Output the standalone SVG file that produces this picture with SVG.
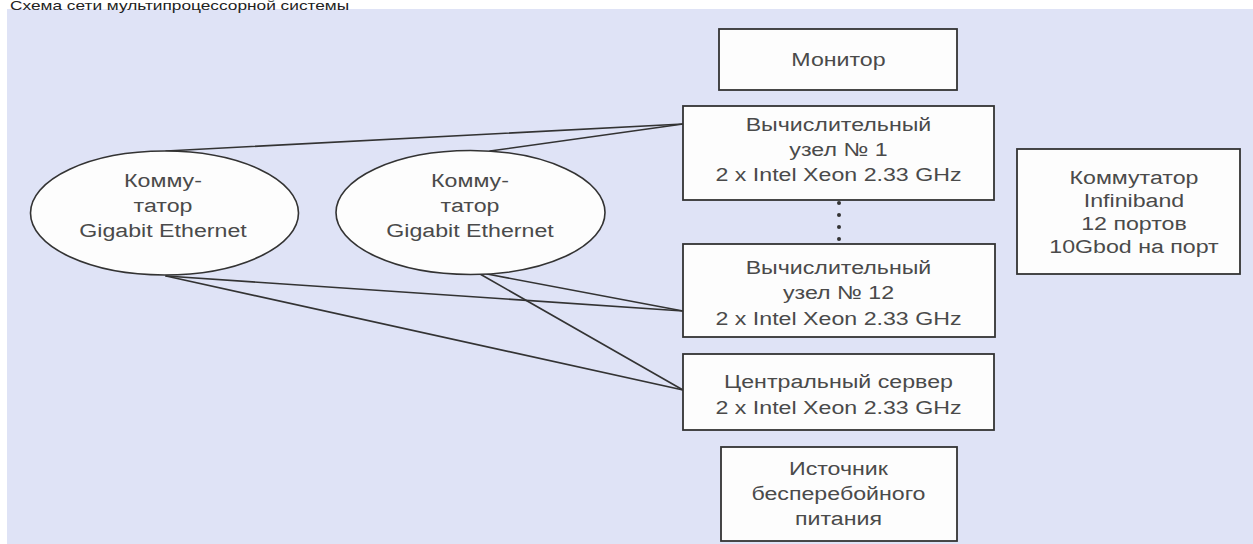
<svg xmlns="http://www.w3.org/2000/svg" width="1253" height="544" viewBox="0 0 1253 544">
  <style>
    .bg { fill: #dfe3f6; }
    .box { fill: #fdfdfd; stroke: #333; stroke-width: 1.8; }
    .ell { fill: #fdfdfd; stroke: #333; stroke-width: 1.6; }
    .wire { stroke: #333; stroke-width: 1.6; fill: none; stroke-linecap: round; }
    .t { font-family: "Liberation Sans", Arial, sans-serif; font-size: 19px; fill: #4a4a4a; text-anchor: middle; }
    .title { font-family: "Liberation Sans", Arial, sans-serif; font-size: 13px; fill: #222; }
    .dot { fill: #333; }
  </style>
  <rect x="0" y="0" width="1253" height="544" fill="#ffffff"/>
  <rect class="bg" x="7" y="9" width="1246" height="535"/>
  <g id="title" transform="matrix(1.33 0 0 1 -3.3 0)">
    <text class="title" x="10" y="10">Схема сети мультипроцессорной системы</text>
  </g>

  <g id="connectors">
    <line class="wire" x1="166" y1="151" x2="683" y2="124"/>
    <line class="wire" x1="490" y1="151" x2="683" y2="124"/>
    <line class="wire" x1="166" y1="276" x2="683" y2="311"/>
    <line class="wire" x1="166" y1="276" x2="683" y2="390"/>
    <line class="wire" x1="487" y1="274" x2="683" y2="311"/>
    <line class="wire" x1="480" y1="274" x2="683" y2="390"/>
  </g>

  <g id="switch1">
    <ellipse class="ell" cx="164.5" cy="213" rx="134" ry="62"/>
    <g transform="matrix(1.22 0 0 1 -35.86 0)">
      <text class="t" x="163" y="187">Комму-</text>
      <text class="t" x="163" y="212">татор</text>
      <text class="t" x="163" y="237">Gigabit Ethernet</text>
    </g>
  </g>

  <g id="switch2">
    <ellipse class="ell" cx="470.5" cy="212.5" rx="134.5" ry="62"/>
    <g transform="matrix(1.22 0 0 1 -103.4 0)">
      <text class="t" x="470" y="187">Комму-</text>
      <text class="t" x="470" y="212">татор</text>
      <text class="t" x="470" y="237">Gigabit Ethernet</text>
    </g>
  </g>

  <g id="monitor">
    <rect class="box" x="719" y="29" width="238" height="61"/>
    <g transform="matrix(1.22 0 0 1 -184.47 0)">
      <text class="t" x="838.5" y="66">Монитор</text>
    </g>
  </g>

  <g id="node1">
    <rect class="box" x="683" y="106" width="311" height="94"/>
    <g transform="matrix(1.22 0 0 1 -184.47 0)">
      <text class="t" x="838.5" y="131.5">Вычислительный</text>
      <text class="t" x="838.5" y="156">узел № 1</text>
      <text class="t" x="838.5" y="181">2 x Intel Xeon 2.33 GHz</text>
    </g>
  </g>

  <g id="ellipsis">
    <circle class="dot" cx="839" cy="203" r="2"/>
    <circle class="dot" cx="839" cy="215" r="2"/>
    <circle class="dot" cx="839" cy="227" r="2"/>
    <circle class="dot" cx="839" cy="239" r="2"/>
  </g>

  <g id="node12">
    <rect class="box" x="683" y="244" width="312" height="93"/>
    <g transform="matrix(1.22 0 0 1 -184.47 0)">
      <text class="t" x="838.5" y="274">Вычислительный</text>
      <text class="t" x="838.5" y="299">узел № 12</text>
      <text class="t" x="838.5" y="325">2 x Intel Xeon 2.33 GHz</text>
    </g>
  </g>

  <g id="server">
    <rect class="box" x="683" y="354" width="311" height="76"/>
    <g transform="matrix(1.22 0 0 1 -184.47 0)">
      <text class="t" x="838.5" y="388">Центральный сервер</text>
      <text class="t" x="838.5" y="414">2 x Intel Xeon 2.33 GHz</text>
    </g>
  </g>

  <g id="ups">
    <rect class="box" x="721" y="447" width="236" height="94"/>
    <g transform="matrix(1.22 0 0 1 -184.47 0)">
      <text class="t" x="838.5" y="475">Источник</text>
      <text class="t" x="838.5" y="500">бесперебойного</text>
      <text class="t" x="838.5" y="525">питания</text>
    </g>
  </g>

  <g id="infiniband">
    <rect class="box" x="1017" y="149" width="223" height="125"/>
    <g transform="matrix(1.22 0 0 1 -249.48 0)">
      <text class="t" x="1134" y="184">Коммутатор</text>
      <text class="t" x="1134" y="207">Infiniband</text>
      <text class="t" x="1134" y="230">12 портов</text>
      <text class="t" x="1134" y="253">10Gbod на порт</text>
    </g>
  </g>
</svg>
